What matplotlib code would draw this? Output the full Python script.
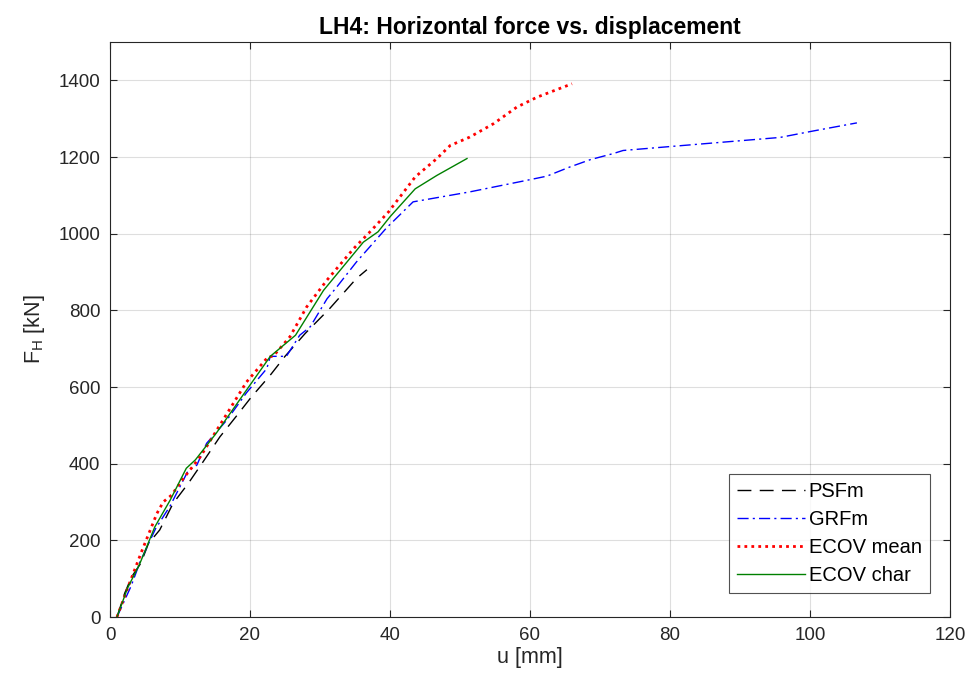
import numpy as np
import matplotlib
matplotlib.use('Agg')
import matplotlib.pyplot as plt
from matplotlib.ticker import MultipleLocator

plt.rcParams['font.family'] = ['Liberation Sans', 'DejaVu Sans']

# PSFm
u_psf = [1.0, 2.1, 3.1, 4.4, 5.5, 7.1, 9.0, 11.2, 13.3, 15.7, 18.1, 20.2, 22.9,
         25.0, 27.9, 31.4, 35.2, 36.7]
F_psf = [0, 62, 105, 140, 192, 227, 296, 349, 405, 470, 525, 574, 631,
         680, 740, 805, 883, 906]

# GRFm
u_grf = [1.0, 3.0, 4.3, 6.5, 8.6, 11.2, 12.4, 13.8, 16.7, 19.5, 22.4, 22.9, 25.2,
         27.1, 28.6, 31.0, 32.4, 35.2, 39.5, 43.3, 51.4, 59.5, 62.4, 65.7, 68.6,
         71.9, 73.3, 80.5, 95.7, 100.5, 106.7]
F_grf = [0, 80, 144, 230, 290, 383, 396, 453, 514, 585, 648, 680, 680,
         735, 757, 830, 861, 926, 1015, 1083, 1109, 1139, 1150, 1174, 1193,
         1209, 1217, 1228, 1251, 1268, 1289]

# ECOV mean
u_em = [1.0, 2.6, 4.5, 6.7, 7.6, 8.8, 10.5, 12.9, 19.5, 22.6, 23.3, 25.7, 28.1,
        31.0, 34.8, 37.1, 39.8, 43.6, 46.7, 48.6, 51.4, 54.8, 58.1, 61.0, 66.0]
F_em = [0, 79, 170, 270, 300, 318, 362, 418, 613, 679, 680, 731, 809,
        879, 961, 1004, 1057, 1148, 1196, 1230, 1252, 1287, 1330, 1356, 1391]

# ECOV char
u_ec = [1.0, 2.5, 4.3, 6.4, 8.6, 10.9, 12.2, 15.2, 19.5, 22.9, 26.5, 30.5, 36.2,
        38.3, 40.0, 43.6, 46.7, 51.0]
F_ec = [0, 75, 141, 235, 305, 388, 410, 480, 592, 680, 735, 852, 978,
        1005, 1044, 1117, 1152, 1196]

fig = plt.figure(figsize=(9.76, 6.91), dpi=100)
ax = fig.add_axes([110/976, 1-617/691, 840/976, 575/691])

ax.plot(u_psf, F_psf, color='k', lw=1, ls=(0, (10, 6)), label='PSFm')
ax.plot(u_grf, F_grf, color='b', lw=1, ls=(0, (8, 3, 1.5, 3)), label='GRFm')
ax.plot(u_em, F_em, color='r', lw=2, ls=(0, (1, 1.5)), label='ECOV mean')
ax.plot(u_ec, F_ec, color=(0, 0.5, 0), lw=1, ls='-', label='ECOV char')

ax.set_xlim(0, 120)
ax.set_ylim(0, 1500)
ax.xaxis.set_major_locator(MultipleLocator(20))
ax.yaxis.set_major_locator(MultipleLocator(200))
ax.grid(True, color=(0.15, 0.15, 0.15), alpha=0.15, lw=0.8)
ax.set_axisbelow(True)

axc = (0.15, 0.15, 0.15)
for s in ax.spines.values():
    s.set_color(axc)
    s.set_linewidth(0.8)
ax.tick_params(direction='in', length=5, width=0.8, colors=axc,
               labelsize=13.5, labelcolor=axc, top=True, right=True,
               labeltop=False, labelright=False, pad=7)

ax.set_xlabel('u [mm]', fontsize=15.5, color=axc, labelpad=2)
ax.set_ylabel(r'F$_\mathregular{H}$ [kN]', fontsize=15.5, color=axc, labelpad=8)
ax.set_title('LH4: Horizontal force vs. displacement', fontsize=16.5,
             fontweight='bold', pad=6)

leg = ax.legend(loc='lower right', bbox_to_anchor=(0.976, 0.041), fontsize=14.5,
                handlelength=3.35, frameon=True, fancybox=False, borderpad=0.4,
                labelspacing=0.45, handletextpad=0.2, borderaxespad=0)
leg.get_frame().set_edgecolor(axc)
leg.get_frame().set_linewidth(0.8)

fig.savefig('out.png', dpi=100)
